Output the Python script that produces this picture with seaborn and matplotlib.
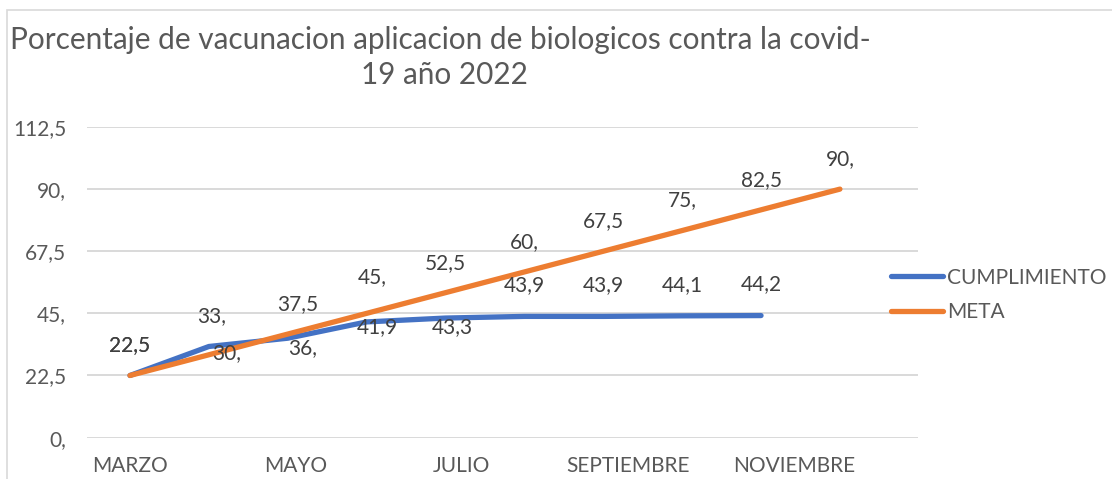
import matplotlib
matplotlib.use("Agg")
import matplotlib.pyplot as plt
import seaborn as sns
import pandas as pd
import numpy as np
from matplotlib.patches import Rectangle

# data
months = ["MARZO", "ABRIL", "MAYO", "JUNIO", "JULIO", "AGOSTO",
          "SEPTIEMBRE", "OCTUBRE", "NOVIEMBRE", "DICIEMBRE"]
cumplimiento = [22.5, 33.0, 36.0, 41.9, 43.3, 43.9, 43.9, 44.1, 44.2]
meta = [22.5, 30.0, 37.5, 45.0, 52.5, 60.0, 67.5, 75.0, 82.5, 90.0]
y_ticks = [0, 22.5, 45, 67.5, 90, 112.5]

# label offsets in pixels (dx, dy), hand placed like the original
off_cump = [(0, 30), (3, 30), (15, -10), (11, -5), (7, -9),
            (0, 31), (0, 31), (0, 31), (0, 31)]
off_meta = [(0, 30), (18, 2), (10, 30), (6, 36), (0, 30),
            (0, 30), (0, 30), (0, 30), (0, 30), (0, 30)]

blue = "#4472C4"
orange = "#ED7D31"


def fmt(v):
    # excel style: "45," for whole numbers, "22,5" otherwise
    if float(v).is_integer():
        return "{:d},".format(int(v))
    return "{:.1f}".format(v).replace(".", ",")


df = pd.concat([
    pd.DataFrame({"x": np.arange(len(cumplimiento)), "valor": cumplimiento,
                  "serie": "CUMPLIMIENTO"}),
    pd.DataFrame({"x": np.arange(len(meta)), "valor": meta, "serie": "META"}),
])

sns.set_theme(style="white")
plt.rcParams["font.family"] = ["Lato", "DejaVu Sans"]

fig = plt.figure(figsize=(11.12, 4.79), dpi=100)
ax = fig.add_axes([87 / 1112, 1 - 437.6 / 479, (918 - 87) / 1112, 310.6 / 479])

sns.lineplot(data=df, x="x", y="valor", hue="serie",
             palette={"CUMPLIMIENTO": blue, "META": orange},
             linewidth=3.8, ax=ax, solid_capstyle="round", solid_joinstyle="round")

px = 0.72  # pixels -> points
for vals, offs in [(cumplimiento, off_cump), (meta, off_meta)]:
    for i, v in enumerate(vals):
        ax.annotate(fmt(v), (i, v), xytext=(offs[i][0] * px, offs[i][1] * px),
                    textcoords="offset points", ha="center", va="center",
                    fontsize=15, color="#404040")

ax.set_ylim(0, 112.5)
ax.set_xlim(-0.545, 9.99)
ax.set_yticks(y_ticks)
ax.set_yticklabels([fmt(t) for t in y_ticks])
tick_idx = [0, 2, 4, 6, 8]
ax.set_xticks([i * 1.052 for i in tick_idx])
ax.set_xticklabels([months[i] for i in tick_idx])
ax.tick_params(axis="both", length=0, labelsize=15, labelcolor="#595959")
ax.tick_params(axis="y", pad=15)
ax.tick_params(axis="x", pad=13)
ax.grid(axis="y", color="#d9d9d9", linewidth=1.4)
ax.set_axisbelow(True)
for s in ax.spines.values():
    s.set_visible(False)
ax.set_xlabel("")
ax.set_ylabel("")

leg = ax.legend(loc="center left", bbox_to_anchor=(891 / 1112, 1 - 295 / 479),
                bbox_transform=fig.transFigure, frameon=False, fontsize=15,
                handlelength=2.5, handletextpad=0.2, labelspacing=0.7,
                labelcolor="#595959", borderpad=0, borderaxespad=0)
for h in leg.get_lines():
    h.set_linewidth(3.8)

fig.text(440 / 1112, 1 - 40 / 479,
         "Porcentaje de vacunacion aplicacion de biologicos contra la covid-",
         ha="center", va="center", fontsize=21.4, color="#595959")
fig.text(444 / 1112, 1 - 75 / 479, "19 año 2022",
         ha="center", va="center", fontsize=21.4, color="#595959")

fig.patches.append(Rectangle((7 / 1112, -0.1), 1.2, 1 - 10 / 479 + 0.1,
                             transform=fig.transFigure, fill=False,
                             edgecolor="#d9d9d9", linewidth=1.2))

fig.savefig("out.png", dpi=100)
